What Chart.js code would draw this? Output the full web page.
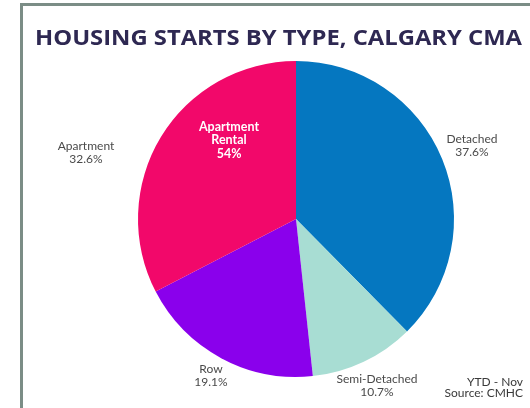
<!DOCTYPE html>
<html>
<head>
<meta charset="utf-8">
<script src="https://cdn.jsdelivr.net/npm/chart.js@4.4.1/dist/chart.umd.min.js"></script>
<style>
  html, body { margin: 0; padding: 0; background: #fff; }
  #wrap { position: relative; width: 530px; height: 408px; overflow: hidden; }
  #frame {
    position: absolute; left: 20px; top: 3px; width: 600px; height: 500px;
    border-left: 3px solid #7b8d86; border-top: 3px solid #7b8d86;
  }
  canvas { position: absolute; left: 0; top: 0; }
</style>
</head>
<body>
<div id="wrap">
  <div id="frame"></div>
  <canvas id="pieChart" width="530" height="408"></canvas>
</div>
<script>
// DATA
const categories = ["Detached", "Semi-Detached", "Row", "Apartment"];
const shares = [37.6, 10.7, 19.1, 32.6];
const rentalShareOfApartment = 54;

const title = "HOUSING STARTS BY TYPE, CALGARY CMA";
const footnotes = ["YTD - Nov", "Source: CMHC"];

// STYLE
const sliceColors = ["#0577c0", "#a8ddd3", "#8a00ec", "#f2086a"];
// label anchor offsets from pie centre (px)
const labelOffsets = [[176, -73], [81, 167], [-85, 157], [-210, -66]];
const rentalOffset = [-67, -79];

const labelPlugin = {
    id: "labels",
    afterDraw(chart) {
        const c = chart.ctx;
        const arc = chart.getDatasetMeta(0).data[0];
        const cx = arc.x, cy = arc.y;

        c.save();
        c.textAlign = "center";
        c.textBaseline = "middle";

        // outside labels
        c.fillStyle = "#4a4a4a";
        c.font = "12px Lato";
        categories.forEach((name, i) => {
            const [dx, dy] = labelOffsets[i];
            c.fillText(name, cx + dx, cy + dy - 6.5);
            c.fillText(shares[i].toFixed(1) + "%", cx + dx, cy + dy + 6.5);
        });

        // rental note inside apartment slice
        c.fillStyle = "#ffffff";
        c.font = "bold 12.5px Lato";
        const rx = cx + rentalOffset[0], ry = cy + rentalOffset[1];
        c.fillText("Apartment", rx, ry - 13.5);
        c.fillText("Rental", rx, ry);
        c.fillText(rentalShareOfApartment + "%", rx, ry + 13.5);

        // title, fitted to width
        c.fillStyle = "#2e2852";
        c.font = "bold 21px 'Open Sans'";
        c.textAlign = "left";
        const w = c.measureText(title).width;
        c.save();
        c.translate(35, 39);
        c.scale(487 / w, 1);
        c.fillText(title, 0, 0);
        c.restore();

        // footnotes
        c.fillStyle = "#3a3a3a";
        c.font = "12px Lato";
        c.textAlign = "right";
        c.fillText(footnotes[0], 523, 382);
        c.fillText(footnotes[1], 523, 393);
        c.restore();
    }
};

const ctx = document.getElementById("pieChart").getContext("2d");
new Chart(ctx, {
    type: "pie",
    data: {
        labels: categories,
        datasets: [{
            data: shares,
            backgroundColor: sliceColors,
            borderWidth: 0
        }]
    },
    options: {
        responsive: false,
        animation: false,
        layout: { padding: { top: 61, bottom: 31, left: 138, right: 76 } },
        plugins: {
            legend: { display: false },
            tooltip: { enabled: false }
        }
    },
    plugins: [labelPlugin]
});
</script>
</body>
</html>
